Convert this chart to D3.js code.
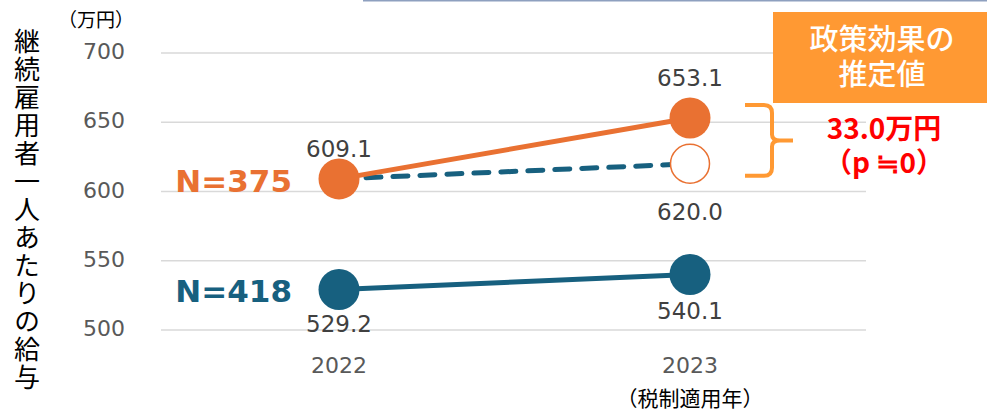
<!DOCTYPE html>
<html>
<head>
<meta charset="utf-8">
<script src="https://cdn.jsdelivr.net/npm/d3@7"></script>
<style>
  body { margin: 0; background: #fff; }
  svg { display: block; }
  text { font-family: "DejaVu Sans", Verdana, sans-serif; }
  .jp { font-family: "Noto Sans CJK JP", sans-serif; }
</style>
</head>
<body>
<div id="chart"></div>
<script>
// data
const years = ["2022", "2023"];
const yTicks = [500, 550, 600, 650, 700];
const group375 = [609.1, 653.1];   // 実績
const counterfactual = [609.1, 620.0]; // 税制なしの推計
const group418 = [529.2, 540.1];
const boxLabel = ["政策効果の", "推定値"];
const effectLabel = ["33.0万円", "（p ≒0）"];

const W = 987, H = 414;
const orange = "#E97132", blue = "#17607F", bracketColor = "#FF9933";

const svg = d3.select("#chart").append("svg")
    .attr("width", W)
    .attr("height", H);

const x = d3.scalePoint()
    .domain(years)
    .range([339, 690]);

const y = d3.scaleLinear()
    .domain([500, 700])
    .range([330, 53]);

// top border line
svg.append("line")
    .attr("x1", 363).attr("x2", W)
    .attr("y1", 0.5).attr("y2", 0.5)
    .attr("stroke", "#8EA0BF")
    .attr("stroke-width", 2);

// gridlines
svg.append("g")
    .selectAll("line")
    .data(yTicks)
    .join("line")
    .attr("x1", 161).attr("x2", 866)
    .attr("y1", d => y(d)).attr("y2", d => y(d))
    .attr("stroke", "#D9D9D9")
    .attr("stroke-width", 1.5);

// y tick labels
svg.append("g")
    .selectAll("text")
    .data(yTicks)
    .join("text")
    .attr("x", 125)
    .attr("y", d => y(d) + 6)
    .attr("text-anchor", "end")
    .attr("fill", "#595959")
    .style("font-size", "22px")
    .text(d => d);

svg.append("text")
    .attr("class", "jp")
    .attr("x", 58).attr("y", 27)
    .style("font-size", "19px")
    .attr("fill", "#000")
    .text("（万円）");

// vertical y-axis title
svg.append("text")
    .attr("class", "jp")
    .attr("x", 27).attr("y", 28)
    .style("writing-mode", "vertical-rl")
    .style("font-size", "26px")
    .style("letter-spacing", "2px")
    .attr("fill", "#000")
    .text("継続雇用者一人あたりの給与");

// x labels
svg.append("g")
    .selectAll("text")
    .data(years)
    .join("text")
    .attr("x", d => x(d))
    .attr("y", 373)
    .attr("text-anchor", "middle")
    .attr("fill", "#595959")
    .style("font-size", "22px")
    .text(d => d);

svg.append("text")
    .attr("class", "jp")
    .attr("x", x("2023"))
    .attr("y", 406)
    .attr("text-anchor", "middle")
    .style("font-size", "21px")
    .attr("fill", "#000")
    .text("（税制適用年）");

const line = d3.line()
    .x((d, i) => x(years[i]))
    .y(d => y(d));

// dashed counterfactual line
svg.append("path")
    .datum(counterfactual)
    .attr("d", line)
    .attr("fill", "none")
    .attr("stroke", blue)
    .attr("stroke-width", 5)
    .attr("stroke-linecap", "round")
    .attr("stroke-dasharray", "15 12");

svg.append("path")
    .datum(group375)
    .attr("d", line)
    .attr("fill", "none")
    .attr("stroke", orange)
    .attr("stroke-width", 5);

svg.append("path")
    .datum(group418)
    .attr("d", line)
    .attr("fill", "none")
    .attr("stroke", blue)
    .attr("stroke-width", 5);

// markers
svg.append("circle")
    .attr("cx", x("2023")).attr("cy", y(counterfactual[1]))
    .attr("r", 19.5)
    .attr("fill", "#fff")
    .attr("stroke", orange)
    .attr("stroke-width", 1.5);

svg.append("g")
    .selectAll("circle")
    .data(group375)
    .join("circle")
    .attr("cx", (d, i) => x(years[i]))
    .attr("cy", d => y(d))
    .attr("r", 20.5)
    .attr("fill", orange);

svg.append("g")
    .selectAll("circle")
    .data(group418)
    .join("circle")
    .attr("cx", (d, i) => x(years[i]))
    .attr("cy", d => y(d))
    .attr("r", 20.5)
    .attr("fill", blue);

// value labels
const valLabel = (xv, yv, dy) => svg.append("text")
    .attr("x", xv).attr("y", y(yv) + dy)
    .attr("text-anchor", "middle")
    .attr("fill", "#404040")
    .style("font-size", "23px")
    .text(yv.toFixed(1));

valLabel(x("2022"), group375[0], -22);
valLabel(x("2023"), group375[1], -32);
valLabel(x("2023"), counterfactual[1], 56);
valLabel(x("2022"), group418[0], 42);
valLabel(x("2023"), group418[1], 45);

// N labels
svg.append("text")
    .attr("x", 292).attr("y", y(group375[0]) + 13)
    .attr("text-anchor", "end")
    .attr("fill", orange)
    .style("font-size", "31px")
    .style("font-weight", "bold")
    .text("N=375");

svg.append("text")
    .attr("x", 292).attr("y", y(group418[0]) + 12)
    .attr("text-anchor", "end")
    .attr("fill", blue)
    .style("font-size", "31px")
    .style("font-weight", "bold")
    .text("N=418");

// effect box
svg.append("rect")
    .attr("x", 773).attr("y", 12)
    .attr("width", W - 773).attr("height", 91)
    .attr("fill", "#FF9933");

svg.append("text")
    .attr("class", "jp")
    .attr("text-anchor", "middle")
    .attr("fill", "#fff")
    .style("font-size", "29px")
    .style("font-weight", "500")
    .selectAll("tspan")
    .data(boxLabel)
    .join("tspan")
    .attr("x", 882)
    .attr("y", (d, i) => 50 + i * 35)
    .text(d => d);

// brace between actual and counterfactual
const bTop = y(group375[1]) - 13, bBot = y(counterfactual[1]) + 12;
const bMid = (bTop + bBot) / 2;
svg.append("path")
    .attr("d", `M745,${bTop} H764 Q772,${bTop} 772,${bTop + 8} V${bMid - 6} Q772,${bMid} 780,${bMid} H793
                M780,${bMid} Q772,${bMid} 772,${bMid + 6} V${bBot - 8} Q772,${bBot} 764,${bBot} H745`)
    .attr("fill", "none")
    .attr("stroke", bracketColor)
    .attr("stroke-width", 4);

svg.append("text")
    .attr("class", "jp")
    .attr("text-anchor", "middle")
    .attr("fill", "#FF0000")
    .style("font-size", "28px")
    .style("font-weight", "bold")
    .selectAll("tspan")
    .data(effectLabel)
    .join("tspan")
    .attr("x", 884)
    .attr("y", (d, i) => 139 + i * 34)
    .text(d => d);
</script>
</body>
</html>
